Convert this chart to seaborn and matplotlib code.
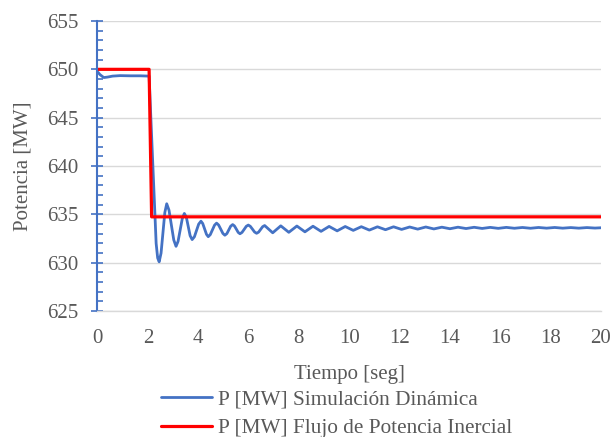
import matplotlib
matplotlib.use("Agg")
import matplotlib.pyplot as plt
import seaborn as sns
import pandas as pd
from matplotlib.ticker import MultipleLocator

# ---- data ----
t_dyn = [0.00, 0.10, 0.25, 0.40, 0.60, 0.90, 1.30, 1.70, 2.05, 2.20, 2.33, 2.39, 2.45,
         2.525, 2.60, 2.675, 2.75,
         2.84, 2.935, 3.03, 3.12,
         3.20, 3.285, 3.37, 3.45,
         3.53, 3.605, 3.68, 3.76,
         3.85, 3.935, 4.02, 4.11,
         4.18, 4.255, 4.33, 4.40,
         4.48, 4.565, 4.65, 4.73,
         4.81, 4.895, 4.98, 5.06,
         5.14, 5.215, 5.29, 5.37,
         5.44, 5.515, 5.59, 5.66,
         5.74, 5.825, 5.91, 5.99,
         6.07, 6.155, 6.24, 6.32,
         6.40, 6.48, 6.56, 6.64,
         6.96, 7.28, 7.60, 7.92, 8.24, 8.56, 8.88, 9.20, 9.52, 9.84, 10.16,
         10.48, 10.80, 11.12, 11.44, 11.76, 12.08, 12.40, 12.72, 13.04, 13.36,
         13.68, 14.00, 14.32, 14.64, 14.96, 15.28, 15.60, 15.92, 16.24, 16.56,
         16.88, 17.20, 17.52, 17.84, 18.16, 18.48, 18.80, 19.12, 19.44, 19.76, 20.00]
p_dyn = [649.75, 649.45, 649.15, 649.20, 649.30, 649.35, 649.33, 649.33, 649.30, 640.0, 632.0, 630.5, 630.1,
         631.0, 633.1, 635.2, 636.1,
         635.44, 633.9, 632.36, 631.7,
         632.21, 633.4, 634.59, 635.1,
         634.7, 633.75, 632.8, 632.4,
         632.69, 633.35, 634.0, 634.3,
         634.06, 633.5, 632.94, 632.7,
         632.91, 633.4, 633.89, 634.1,
         633.91, 633.48, 633.04, 632.85,
         633.02, 633.4, 633.78, 633.95,
         633.81, 633.48, 633.14, 633.0,
         633.14, 633.45, 633.77, 633.9,
         633.77, 633.48, 633.18, 633.05,
         633.17, 633.45, 633.73, 633.85,
         633.1, 633.82, 633.15, 633.8, 633.2, 633.78, 633.25, 633.76, 633.3, 633.75, 633.35,
         633.73, 633.38, 633.72, 633.42, 633.72, 633.45, 633.70, 633.48, 633.70, 633.50,
         633.68, 633.52, 633.68, 633.54, 633.67, 633.55, 633.66, 633.56, 633.66, 633.57,
         633.65, 633.57, 633.65, 633.58, 633.65, 633.58, 633.64, 633.58, 633.64, 633.59, 633.62]

t_flujo = [0.0, 2.05, 2.15, 20.0]
p_flujo = [650.0, 650.0, 634.75, 634.75]

x_ticks = [0, 2, 4, 6, 8, 10, 12, 14, 16, 18, 20]
y_ticks = [625, 630, 635, 640, 645, 650, 655]

label_dyn = "P [MW] Simulación Dinámica"
label_flujo = "P [MW] Flujo de Potencia Inercial"

df_dyn = pd.DataFrame({"t": t_dyn, "p": p_dyn})
df_flujo = pd.DataFrame({"t": t_flujo, "p": p_flujo})

sns.set_theme(style="white")
plt.rcParams["font.family"] = ["Liberation Serif", "DejaVu Serif"]

fig = plt.figure(figsize=(6.12, 4.37), dpi=100)
ax = fig.add_axes([0.1593, 0.288, 0.8227, 0.664])

ax.set_ylim(625, 655)
ax.set_xlim(0, 20)
ax.yaxis.grid(True, color="#d9d9d9", linewidth=1.0)
ax.set_axisbelow(True)

sns.lineplot(data=df_dyn, x="t", y="p", ax=ax, color="#4472C4", linewidth=2.0,
             label=label_dyn, sort=False, estimator=None)
sns.lineplot(data=df_flujo, x="t", y="p", ax=ax, color="#FF0000", linewidth=2.3,
             label=label_flujo, sort=False, estimator=None)
for ln in ax.get_lines():
    ln.set_solid_joinstyle("round")

ax.set_xticks(x_ticks)
ax.set_yticks(y_ticks)
ax.yaxis.set_minor_locator(MultipleLocator(1))

txt = "#595959"
for s in ["top", "right"]:
    ax.spines[s].set_visible(False)
ax.spines["left"].set_color("#4472C4")
ax.spines["left"].set_linewidth(1.5)
ax.spines["bottom"].set_color("#d9d9d9")
ax.spines["bottom"].set_linewidth(1.0)

ax.tick_params(axis="y", which="major", direction="inout", length=8, width=1.2,
               color="#4472C4", labelsize=15, labelcolor=txt, pad=10, left=True)
ax.tick_params(axis="y", which="minor", direction="in", length=4, width=1.2,
               color="#4472C4", left=True)
ax.tick_params(axis="x", which="both", length=0, labelsize=15, labelcolor=txt, pad=13)

ax.set_xlabel("Tiempo [seg]", fontsize=15, color=txt, labelpad=12)
ax.set_ylabel("Potencia [MW]", fontsize=15, color=txt, labelpad=10)

leg = ax.legend(loc="upper center", bbox_to_anchor=(0.475, -0.271), ncol=1, frameon=False,
                fontsize=15.3, handlelength=2.4, handletextpad=0.3, labelspacing=0.42,
                borderaxespad=0, borderpad=0)
for t in leg.get_texts():
    t.set_color(txt)

fig.savefig("out.png", dpi=100)
